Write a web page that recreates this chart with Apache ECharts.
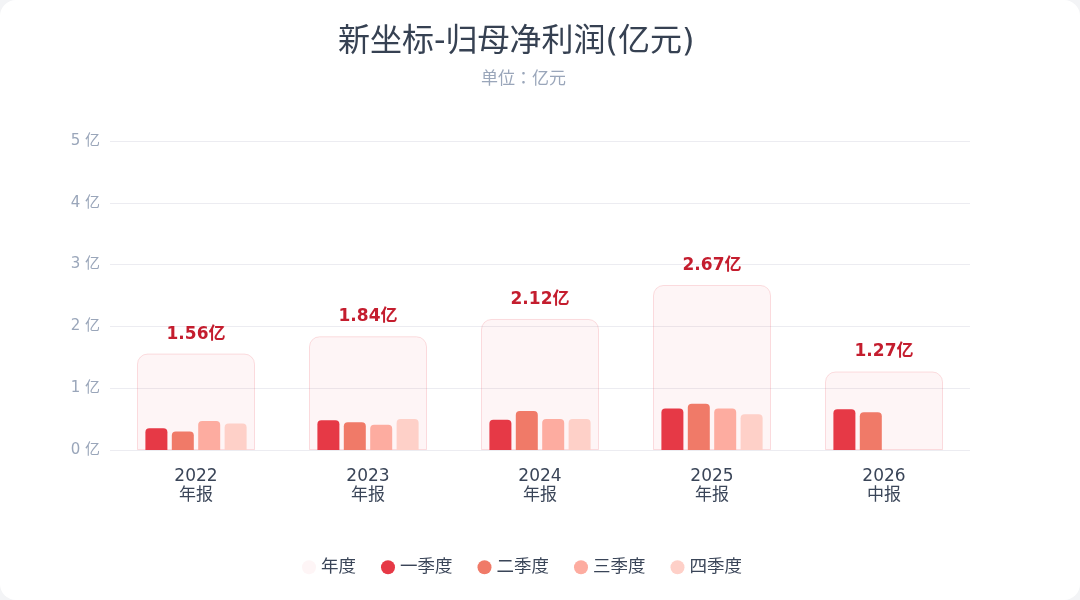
<!DOCTYPE html>
<html>
<head>
<meta charset="utf-8">
<script src="https://cdn.jsdelivr.net/npm/echarts@6/dist/echarts.min.js"></script>
<style>
    html, body { margin: 0; padding: 0; background: #f3f4f6; }
    #chart { width: 1080px; height: 600px; background: #fff; border-radius: 16px; overflow: hidden; }
</style>
</head>
<body>
<div id="chart"></div>
<script>
// 分类
var categories = ['2022\n年报', '2023\n年报', '2024\n年报', '2025\n年报', '2026\n中报'];
// 年度合计
var annual = [1.56, 1.84, 2.12, 2.67, 1.27];
// 各季度（2026 只有中报）
var q1 = [0.35, 0.48, 0.49, 0.67, 0.66];
var q2 = [0.30, 0.45, 0.63, 0.75, 0.61];
var q3 = [0.47, 0.41, 0.50, 0.67, null];
var q4 = [0.43, 0.50, 0.50, 0.58, null];

var fontFamily = '"DejaVu Sans", "Noto Sans CJK JP", sans-serif';

var myChart = echarts.init(document.getElementById('chart'));

function quarterSeries(name, data, color) {
    return {
        name: name,
        type: 'bar',
        xAxisIndex: 0,
        data: data,
        barWidth: 22,
        barGap: '20%',
        z: 3,
        itemStyle: {
            color: color,
            borderRadius: [4, 4, 0, 0]
        }
    };
}

var option = {
    textStyle: { fontFamily: fontFamily },
    title: [
        {
            text: '新坐标-归母净利润(亿元)',
            left: 333,
            top: 22,
            textStyle: { fontSize: 32, fontWeight: 'normal', color: '#364152', fontFamily: fontFamily }
        },
        {
            text: '单位：亿元',
            left: 476,
            top: 66,
            textStyle: { fontSize: 17, fontWeight: 'normal', color: '#9aa6ba', fontFamily: fontFamily }
        }
    ],
    legend: {
        bottom: 19,
        left: 297,
        icon: 'circle',
        itemWidth: 14,
        itemHeight: 14,
        itemGap: 25,
        textStyle: { fontSize: 17.5, color: '#3a4558' },
        data: [
            { name: '年度', itemStyle: { borderWidth: 0, color: 'rgba(230, 57, 70, 0.05)' } },
            '一季度', '二季度', '三季度', '四季度'
        ]
    },
    grid: { left: 110, right: 110, top: 141, bottom: 150 },
    xAxis: [
        {
            type: 'category',
            data: categories,
            axisLine: { show: false },
            axisTick: { show: false },
            axisLabel: { fontSize: 17, color: '#3a4558', lineHeight: 19, margin: 17 }
        },
        {
            type: 'category',
            data: categories,
            show: false
        }
    ],
    yAxis: {
        type: 'value',
        min: 0,
        max: 5,
        interval: 1,
        axisLine: { show: false },
        axisTick: { show: false },
        axisLabel: { formatter: '{value} 亿', fontSize: 15, color: '#9aa6ba', margin: 10, padding: [3, 0, 0, 0] },
        splitLine: { lineStyle: { color: '#ececf1' } }
    },
    series: [
        {
            name: '年度',
            type: 'bar',
            xAxisIndex: 1,
            data: annual,
            barWidth: 118,
            z: 2,
            itemStyle: {
                color: 'rgba(230, 57, 70, 0.05)',
                borderColor: 'rgba(230, 57, 70, 0.16)',
                borderWidth: 1,
                borderRadius: [10, 10, 0, 0]
            },
            label: {
                show: true,
                position: 'top',
                distance: 11,
                formatter: '{c}亿',
                fontSize: 17,
                fontWeight: 'bold',
                color: '#c41d2e'
            }
        },
        quarterSeries('一季度', q1, '#e63946'),
        quarterSeries('二季度', q2, '#f07a68'),
        quarterSeries('三季度', q3, '#fdaca0'),
        quarterSeries('四季度', q4, '#fed0c8')
    ]
};

myChart.setOption(option, true);
</script>
</body>
</html>
